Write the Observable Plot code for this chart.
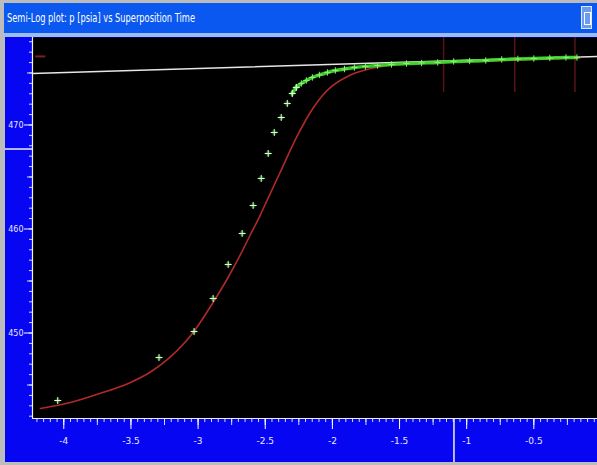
<!DOCTYPE html>
<html><head><meta charset="utf-8">
<script src="https://cdn.jsdelivr.net/npm/d3@7"></script>
<script src="https://cdn.jsdelivr.net/npm/@observablehq/plot@0.6"></script>
<style>
html,body{margin:0;padding:0;background:#b8b8b8;}
#win{position:relative;width:597px;height:465px;background:#bcbcbc;overflow:hidden;}
#titlebar{position:absolute;left:4px;top:3px;width:593px;height:30px;background:#0a58f0;}
#titleline{position:absolute;left:4px;top:33px;width:593px;height:4px;background:#9cbcf2;}
#chart{position:absolute;left:5px;top:37px;}
#btn{position:absolute;left:581px;top:6px;width:11px;height:23px;background:#6c9cf2;border:1px solid #e0eaff;box-sizing:border-box;}
#btn div{position:absolute;left:2px;top:5px;width:5px;height:11px;border:1px solid #ffffff;}
</style></head>
<body>
<div id="win">
  <div id="titlebar">
    <svg width="593" height="30"><text x="3" y="19" fill="#ffffff" font-size="13" font-family="Liberation Sans Narrow, DejaVu Sans, sans-serif" textLength="188" lengthAdjust="spacingAndGlyphs">Semi-Log plot: p [psia] vs Superposition Time</text></svg>
  </div>
  <div id="btn"><div></div></div>
  <div id="titleline"></div>
  <div id="chart"></div>
</div>
<script>
// Measured data (green crosses)
const greenX = [-4.045, -3.291, -3.030, -2.888, -2.776, -2.672, -2.590, -2.530, -2.478, -2.433, -2.381, -2.336, -2.299, -2.269, -2.231, -2.194, -2.149, -2.097, -2.037, -1.978, -1.910, -1.836, -1.754, -1.664, -1.560, -1.448, -1.336, -1.216, -1.097, -0.978, -0.858, -0.739, -0.619, -0.500, -0.381, -0.261, -0.179];
const greenY = [443.51, 447.64, 450.14, 453.32, 456.59, 459.57, 462.26, 464.86, 467.26, 469.28, 470.72, 472.07, 473.03, 473.61, 473.99, 474.28, 474.57, 474.81, 475.05, 475.24, 475.38, 475.53, 475.63, 475.72, 475.82, 475.91, 475.96, 476.01, 476.11, 476.15, 476.20, 476.30, 476.35, 476.39, 476.44, 476.49, 476.49];
// Model curve (red)
const redX = [-4.174, -3.950, -3.727, -3.503, -3.354, -3.206, -3.034, -2.893, -2.781, -2.684, -2.610, -2.535, -2.483, -2.386, -2.260, -2.200, -2.141, -2.074, -2.014, -1.888, -1.768, -1.515, -1.121, -0.748, -0.376, -0.153];
const redY = [442.74, 443.32, 444.20, 445.25, 446.25, 447.70, 450.10, 452.84, 455.24, 457.55, 459.47, 461.39, 462.84, 465.53, 468.99, 470.43, 471.68, 472.84, 473.61, 474.66, 475.24, 475.82, 476.06, 476.20, 476.35, 476.44];
// Semi-log straight line (white)
const lineX = [-4.233, -0.026];
const lineY = [474.95, 476.59];
// Marker lines (dark red, top)
const markerX = [-1.172, -0.642, -0.194];
const markerYTop = 478.41, markerYBottom = 473.13;
const legendDashX = [-4.209, -4.134], legendDashY = 476.59;
// Cursor
const cursorX = -1.091, cursorY = 467.64;
// Axes
const xDomain = [-4.233, -0.026];
const yDomain = [441.78, 478.41];
const xMajor = [-4, -3.5, -3, -2.5, -2, -1.5, -1, -0.5];
const xLabels = ["-4", "-3.5", "-3", "-2.5", "-2", "-1.5", "-1", "-0.5"];
const yMajor = [450, 460, 470];
const yLabels = ["450", "460", "470"];

const green = greenX.map((x, i) => ({x, y: greenY[i]}));
const red = redX.map((x, i) => ({x, y: redY[i]}));
const white = lineX.map((x, i) => ({x, y: lineY[i]}));
const greenSparse = green.filter(d => d.x < -2.25);
const greenDense = green.filter(d => d.x >= -2.3);
const xMinor = d3.range(-84, 0).map(i => i / 20).filter(v => v > xDomain[0]);
const xMid = d3.range(-17, 0).map(i => i / 4).filter(v => v > xDomain[0]);
const yMinor = d3.range(442, 479);
const yMid = [445, 455, 465, 475];

const plot = Plot.plot({
  width: 592, height: 425,
  marginLeft: 27, marginRight: 0, marginTop: 0, marginBottom: 44,
  style: {background: "#0606f2", color: "white", fontFamily: "Liberation Sans Narrow, DejaVu Sans, sans-serif", fontSize: "8px"},
  x: {domain: xDomain, label: null},
  y: {domain: yDomain, label: null},
  marks: [
    Plot.frame({fill: "black", stroke: "none"}),
    Plot.axisX({ticks: xMinor, tickSize: 4, tickFormat: () => "", stroke: "#d8d8ff"}),
    Plot.axisX({ticks: xMid, tickSize: 7, tickFormat: () => "", stroke: "#d8d8ff"}),
    Plot.axisX({ticks: xMajor, tickSize: 11, tickPadding: 8, tickFormat: d => xLabels[xMajor.indexOf(d)], fill: "#e8e8ff", fontSize: 9}),
    Plot.axisY({ticks: yMinor, tickSize: 3, tickFormat: () => "", stroke: "#d8d8ff"}),
    Plot.axisY({ticks: yMid, tickSize: 5, tickFormat: () => "", stroke: "#d8d8ff"}),
    Plot.axisY({ticks: yMajor, tickSize: 8, tickPadding: 1, tickFormat: d => yLabels[yMajor.indexOf(d)], fill: "#e8e8ff"}),
    Plot.ruleX([xDomain[0]], {stroke: "#f0f0f0", strokeWidth: 1.2}),
    Plot.ruleY([yDomain[0]], {stroke: "#f0f0f0", strokeWidth: 1.2}),
    Plot.ruleX(markerX, {y1: markerYBottom, y2: markerYTop, stroke: "#5a1418", strokeWidth: 1.5}),
    Plot.ruleY([legendDashY], {x1: legendDashX[0], x2: legendDashX[1], stroke: "#7a2020", strokeWidth: 2}),
    Plot.line(white, {x: "x", y: "y", stroke: "#e6e6e6", strokeWidth: 1.5}),
    Plot.line(red, {x: "x", y: "y", curve: "monotone-x", stroke: "#b02a2a", strokeWidth: 1.6}),
    Plot.line(greenDense, {x: "x", y: "y", curve: "monotone-x", stroke: "#3ee02e", strokeWidth: 3.5, strokeOpacity: 0.9}),
    Plot.dot(greenDense, {x: "x", y: "y", symbol: "plus", r: 2.2, stroke: "#8cf070", strokeWidth: 1}),
    Plot.dot(greenSparse, {x: "x", y: "y", r: 2.6, fill: "#30ff30", fillOpacity: 0.3, stroke: "none"}),
    Plot.dot(greenSparse, {x: "x", y: "y", symbol: "plus", r: 2.4, stroke: "#e6ffd8", strokeWidth: 1})
  ]
});

// Cursor crosshair in the axis strips, positioned through the plot's own scales
const sx = plot.scale("x"), sy = plot.scale("y");
const svg = d3.select(plot);
const bottomPx = sy.apply(yDomain[0]), leftPx = sx.apply(xDomain[0]);
svg.append("line").attr("x1", sx.apply(cursorX)).attr("x2", sx.apply(cursorX))
  .attr("y1", bottomPx).attr("y2", 425).attr("stroke", "#f0f0f0").attr("stroke-width", 1.5);
svg.append("line").attr("x1", 0).attr("x2", leftPx)
  .attr("y1", sy.apply(cursorY)).attr("y2", sy.apply(cursorY)).attr("stroke", "#f0f0f0").attr("stroke-width", 1.5);

document.getElementById("chart").appendChild(plot);
</script>
</body></html>
